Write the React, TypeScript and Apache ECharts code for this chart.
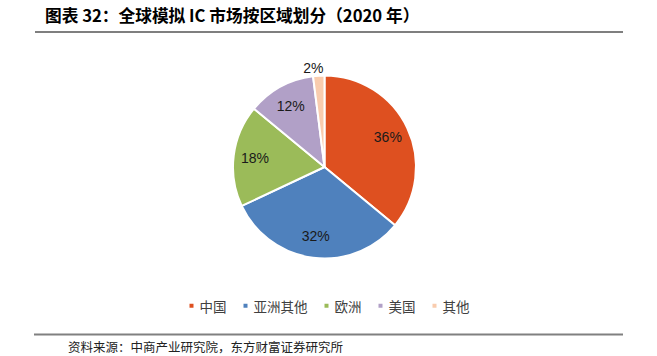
import React, { useEffect, useRef } from 'react';
import * as echarts from 'echarts';

const categories = ['中国', '亚洲其他', '欧洲', '美国', '其他'];
const shares = [36, 32, 18, 12, 2];
const colors = ['#DE5020', '#4F81BD', '#9BBB59', '#B1A0C7', '#F9CCAE'];
const titleText = '图表 32：全球模拟 IC 市场按区域划分（2020 年）';
const sourceText = '资料来源：中商产业研究院，东方财富证券研究所';

const CJK = '"Noto Sans CJK SC", "Liberation Sans", sans-serif';
const LATIN = '"Liberation Sans", Arial, sans-serif';

export default function App() {
  const ref = useRef<HTMLDivElement>(null);
  useEffect(() => {
    document.body.style.margin = '0';
    const chart = echarts.init(ref.current!, undefined, { renderer: 'svg' });
    const mainData = categories.map((name, i) => ({
      name,
      value: shares[i],
      itemStyle: { color: colors[i] },
      label: { show: i === 4 },
    }));
    const labelData = categories.map((name, i) => ({
      name,
      value: shares[i],
      itemStyle: { color: 'rgba(0,0,0,0)', borderWidth: 0 },
      label: { show: i !== 4 },
    }));
    chart.setOption({
      animation: false,
      color: colors,
      legend: {
        data: categories,
        left: 'center',
        top: 294,
        icon: 'rect',
        itemWidth: 6,
        itemHeight: 6,
        itemGap: 15,
        textStyle: { fontSize: 13.5, color: '#404040', fontFamily: CJK },
      },
      series: [
        {
          type: 'pie',
          center: [324.5, 167],
          radius: [0, 91.5],
          startAngle: 90,
          clockwise: true,
          avoidLabelOverlap: false,
          itemStyle: { borderColor: '#ffffff', borderWidth: 2 },
          label: {
            position: 'outside',
            formatter: '{c}%',
            fontSize: 14,
            color: '#1a1a1a',
            fontFamily: LATIN,
          },
          labelLine: { show: false, length: 8, length2: 0 },
          labelLayout: { align: 'center' },
          emphasis: { disabled: true },
          data: mainData,
        },
        {
          type: 'pie',
          center: [324.5, 167],
          radius: [0, 134],
          startAngle: 90,
          clockwise: true,
          silent: true,
          avoidLabelOverlap: false,
          label: {
            position: 'inside',
            formatter: '{c}%',
            fontSize: 14,
            color: '#1a1a1a',
            fontFamily: LATIN,
          },
          labelLine: { show: false },
          emphasis: { disabled: true },
          data: labelData,
        },
      ],
      graphic: [
        {
          type: 'text',
          left: 45,
          top: 7,
          style: {
            text: titleText,
            font: `bold 16.7px ${CJK}`,
            fill: '#000',
          },
        },
        {
          type: 'line',
          shape: { x1: 35, y1: 32, x2: 623, y2: 32 },
          style: { stroke: '#000', lineWidth: 1.2 },
        },
        {
          type: 'line',
          shape: { x1: 34, y1: 334.5, x2: 623, y2: 334.5 },
          style: { stroke: '#808080', lineWidth: 2 },
        },
        {
          type: 'text',
          left: 68,
          top: 340,
          style: {
            text: sourceText,
            font: `12.5px ${CJK}`,
            fill: '#222',
          },
        },
      ],
    });
    return () => chart.dispose();
  }, []);
  return <div ref={ref} style={{ width: 657, height: 356 }} />;
}
